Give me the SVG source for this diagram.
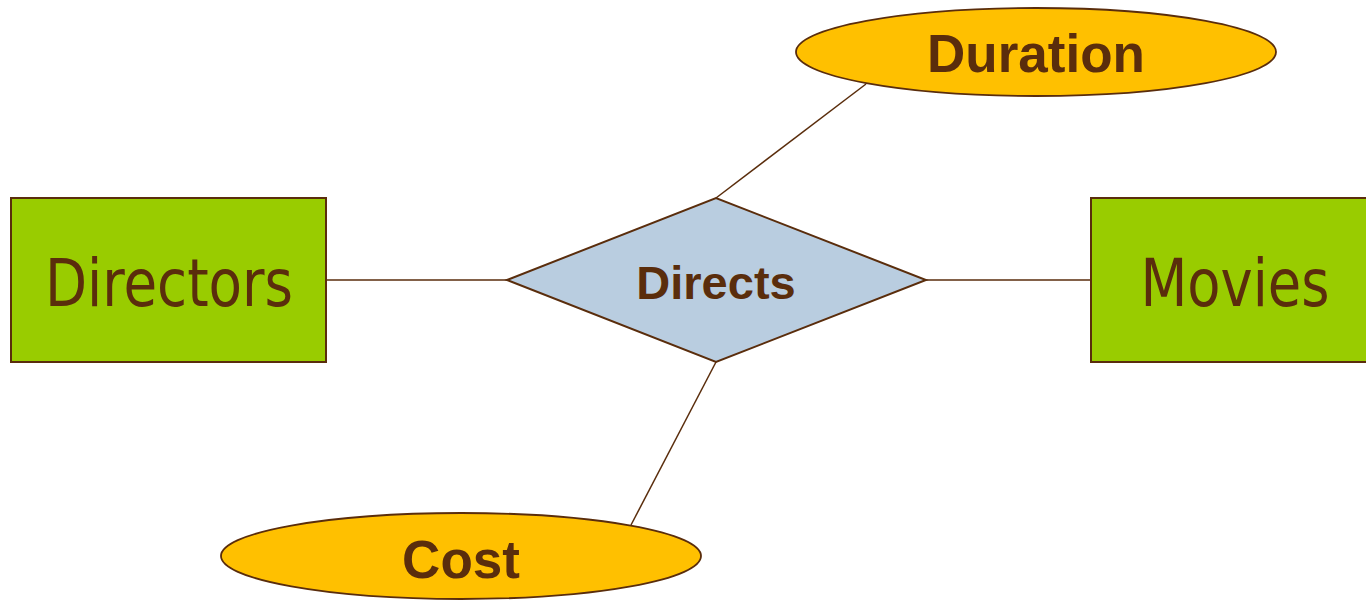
<svg xmlns="http://www.w3.org/2000/svg" width="1366" height="601" viewBox="0 0 1366 601">
<style>
.ent{fill:#99CC00;stroke:#5A2D0C;stroke-width:2}
.rel{fill:#B9CDE0;stroke:#5A2D0C;stroke-width:2}
.att{fill:#FFC000;stroke:#5A2D0C;stroke-width:1.8}
.ln{stroke:#5A2D0C;stroke-width:1.5;fill:none}
.et{font-family:"DejaVu Sans Condensed","DejaVu Sans",sans-serif;font-size:65px;fill:#5A2D0C;text-anchor:middle}
.bt{font-family:"Liberation Sans",Arial,sans-serif;font-weight:bold;fill:#5A2D0C;text-anchor:middle}
</style>
<rect width="1366" height="601" fill="#FFFFFF"/>
<g id="connectors">
<line class="ln" x1="326" y1="280" x2="507" y2="280"/>
<line class="ln" x1="926" y1="280" x2="1091" y2="280"/>
<line class="ln" x1="716" y1="198" x2="866" y2="84"/>
<line class="ln" x1="716" y1="362" x2="631" y2="525"/>
</g>
<g id="directors">
<rect class="ent" x="11" y="198" width="315" height="164"/>
<text class="et" x="169" y="306" textLength="248" lengthAdjust="spacingAndGlyphs">Directors</text>
</g>
<g id="movies">
<rect class="ent" x="1091" y="198" width="285" height="164"/>
<text class="et" x="1235" y="306" textLength="189" lengthAdjust="spacingAndGlyphs">Movies</text>
</g>
<g id="directs">
<polygon class="rel" points="507,280 716,198 926,280 716,362"/>
<text class="bt" x="716" y="299" font-size="47">Directs</text>
</g>
<g id="duration">
<ellipse class="att" cx="1036" cy="52" rx="240" ry="44"/>
<text class="bt" x="1036" y="72" font-size="53">Duration</text>
</g>
<g id="cost">
<ellipse class="att" cx="461" cy="556" rx="240" ry="43"/>
<text class="bt" x="461" y="578" font-size="53">Cost</text>
</g>
</svg>
